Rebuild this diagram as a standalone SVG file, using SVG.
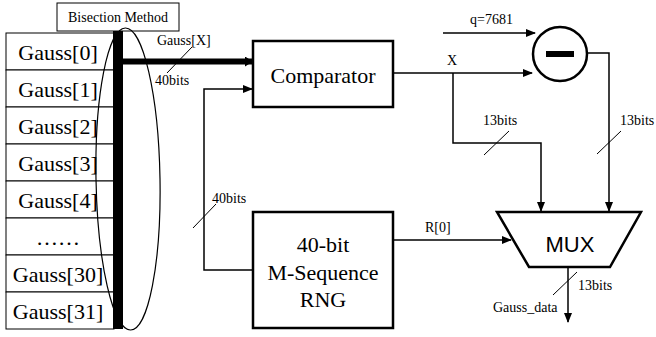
<svg xmlns="http://www.w3.org/2000/svg" width="656" height="337" viewBox="0 0 656 337">
<defs>
<marker id="ah" markerWidth="10" markerHeight="8" refX="9" refY="4" orient="auto" markerUnits="userSpaceOnUse"><path d="M0,0 L10,4 L0,8 Z" fill="#000"/></marker>
<marker id="ahb" markerWidth="8" markerHeight="10" refX="7" refY="5" orient="auto" markerUnits="userSpaceOnUse"><path d="M0,0 L8,5 L0,10 Z" fill="#000"/></marker>
</defs>
<style>
.cell{fill:#fff;stroke:#000;stroke-width:1}
.ct{font-family:"Liberation Serif","Times New Roman",serif;font-size:22px;text-anchor:middle;fill:#000}
.lb{font-family:"Liberation Serif","Times New Roman",serif;font-size:14px;fill:#000}
.box{fill:#fff;stroke:#000;stroke-width:2.5}
.ln{fill:none;stroke:#000;stroke-width:1.5}
.sl{fill:none;stroke:#000;stroke-width:1}
</style>
<rect width="656" height="337" fill="#fff"/>
<g id="bisection">
<rect x="57" y="3" width="122" height="28" fill="#fff" stroke="#000" stroke-width="1"/>
<text x="118" y="22" class="lb" text-anchor="middle" font-size="13">Bisection Method</text>
</g>
<g id="table">
<rect class="cell" x="6" y="33" width="108" height="37"/>
<rect class="cell" x="6" y="70" width="108" height="37"/>
<rect class="cell" x="6" y="107" width="108" height="37"/>
<rect class="cell" x="6" y="144" width="108" height="37"/>
<rect class="cell" x="6" y="181" width="108" height="37"/>
<rect class="cell" x="6" y="218" width="108" height="37"/>
<rect class="cell" x="6" y="255" width="108" height="37"/>
<rect class="cell" x="6" y="292" width="108" height="37"/>
<text class="ct" x="58" y="60">Gauss[0]</text>
<text class="ct" x="58" y="97">Gauss[1]</text>
<text class="ct" x="58" y="134">Gauss[2]</text>
<text class="ct" x="58" y="171">Gauss[3]</text>
<text class="ct" x="58" y="208">Gauss[4]</text>
<text class="ct" x="58" y="245">……</text>
<text class="ct" x="58" y="282">Gauss[30]</text>
<text class="ct" x="58" y="319">Gauss[31]</text>
<rect x="113" y="31" width="10" height="298" fill="#000"/>
<ellipse cx="128" cy="179" rx="32" ry="151" fill="none" stroke="#000" stroke-width="1.2" transform="rotate(-1 128 179)"/>
</g>
<g id="comparator">
<rect class="box" x="253" y="41" width="140" height="66"/>
<text class="ct" x="323" y="83">Comparator</text>
</g>
<g id="rng">
<rect class="box" x="253" y="212" width="140" height="116"/>
<text class="ct" x="323" y="252">40-bit</text>
<text class="ct" x="323" y="280">M-Sequence</text>
<text class="ct" x="323" y="307">RNG</text>
</g>
<g id="subtractor">
<circle cx="560" cy="54" r="27" fill="#fff" stroke="#000" stroke-width="2.5"/>
<rect x="546" y="51" width="28" height="6" fill="#000"/>
</g>
<g id="mux">
<polygon points="497,212 641,212 610,267 529,267" fill="#fff" stroke="#000" stroke-width="2.5"/>
<text x="570" y="252" font-family="'Liberation Sans',Arial,sans-serif" font-size="22" text-anchor="middle">MUX</text>
</g>
<g id="connectors">
<line x1="123" y1="61.5" x2="252" y2="61.5" stroke="#000" stroke-width="6" marker-end="url(#ahb)"/>
<polyline class="ln" points="253,270 204,270 204,89 252,89" marker-end="url(#ah)"/>
<line class="ln" x1="393" y1="73" x2="532" y2="73" marker-end="url(#ah)"/>
<line class="ln" x1="443" y1="33" x2="535" y2="33" marker-end="url(#ah)"/>
<polyline class="ln" points="453,73 453,143 541,143 541,211" marker-end="url(#ah)"/>
<polyline class="ln" points="587,53 609,53 609,211" marker-end="url(#ah)"/>
<line class="ln" x1="393" y1="240" x2="511" y2="240" marker-end="url(#ah)"/>
<line class="ln" x1="568" y1="267" x2="568" y2="322" marker-end="url(#ah)"/>
<line class="sl" x1="192" y1="47" x2="167" y2="73"/>
<line class="sl" x1="193" y1="228" x2="216" y2="204"/>
<line class="sl" x1="484" y1="155" x2="509" y2="131"/>
<line class="sl" x1="597" y1="154" x2="621" y2="131"/>
<line class="sl" x1="553" y1="295" x2="577" y2="272"/>
</g>
<g id="labels">
<text class="lb" x="157" y="45">Gauss[X]</text>
<text class="lb" x="155" y="85">40bits</text>
<text class="lb" x="212" y="203">40bits</text>
<text class="lb" x="470" y="24">q=7681</text>
<text class="lb" x="447" y="65">X</text>
<text class="lb" x="483" y="125">13bits</text>
<text class="lb" x="620" y="125" font-size="13.5">13bits</text>
<text class="lb" x="425" y="232">R[0]</text>
<text class="lb" x="578" y="290">13bits</text>
<text class="lb" x="493" y="312">Gauss_data</text>
</g>
</svg>
